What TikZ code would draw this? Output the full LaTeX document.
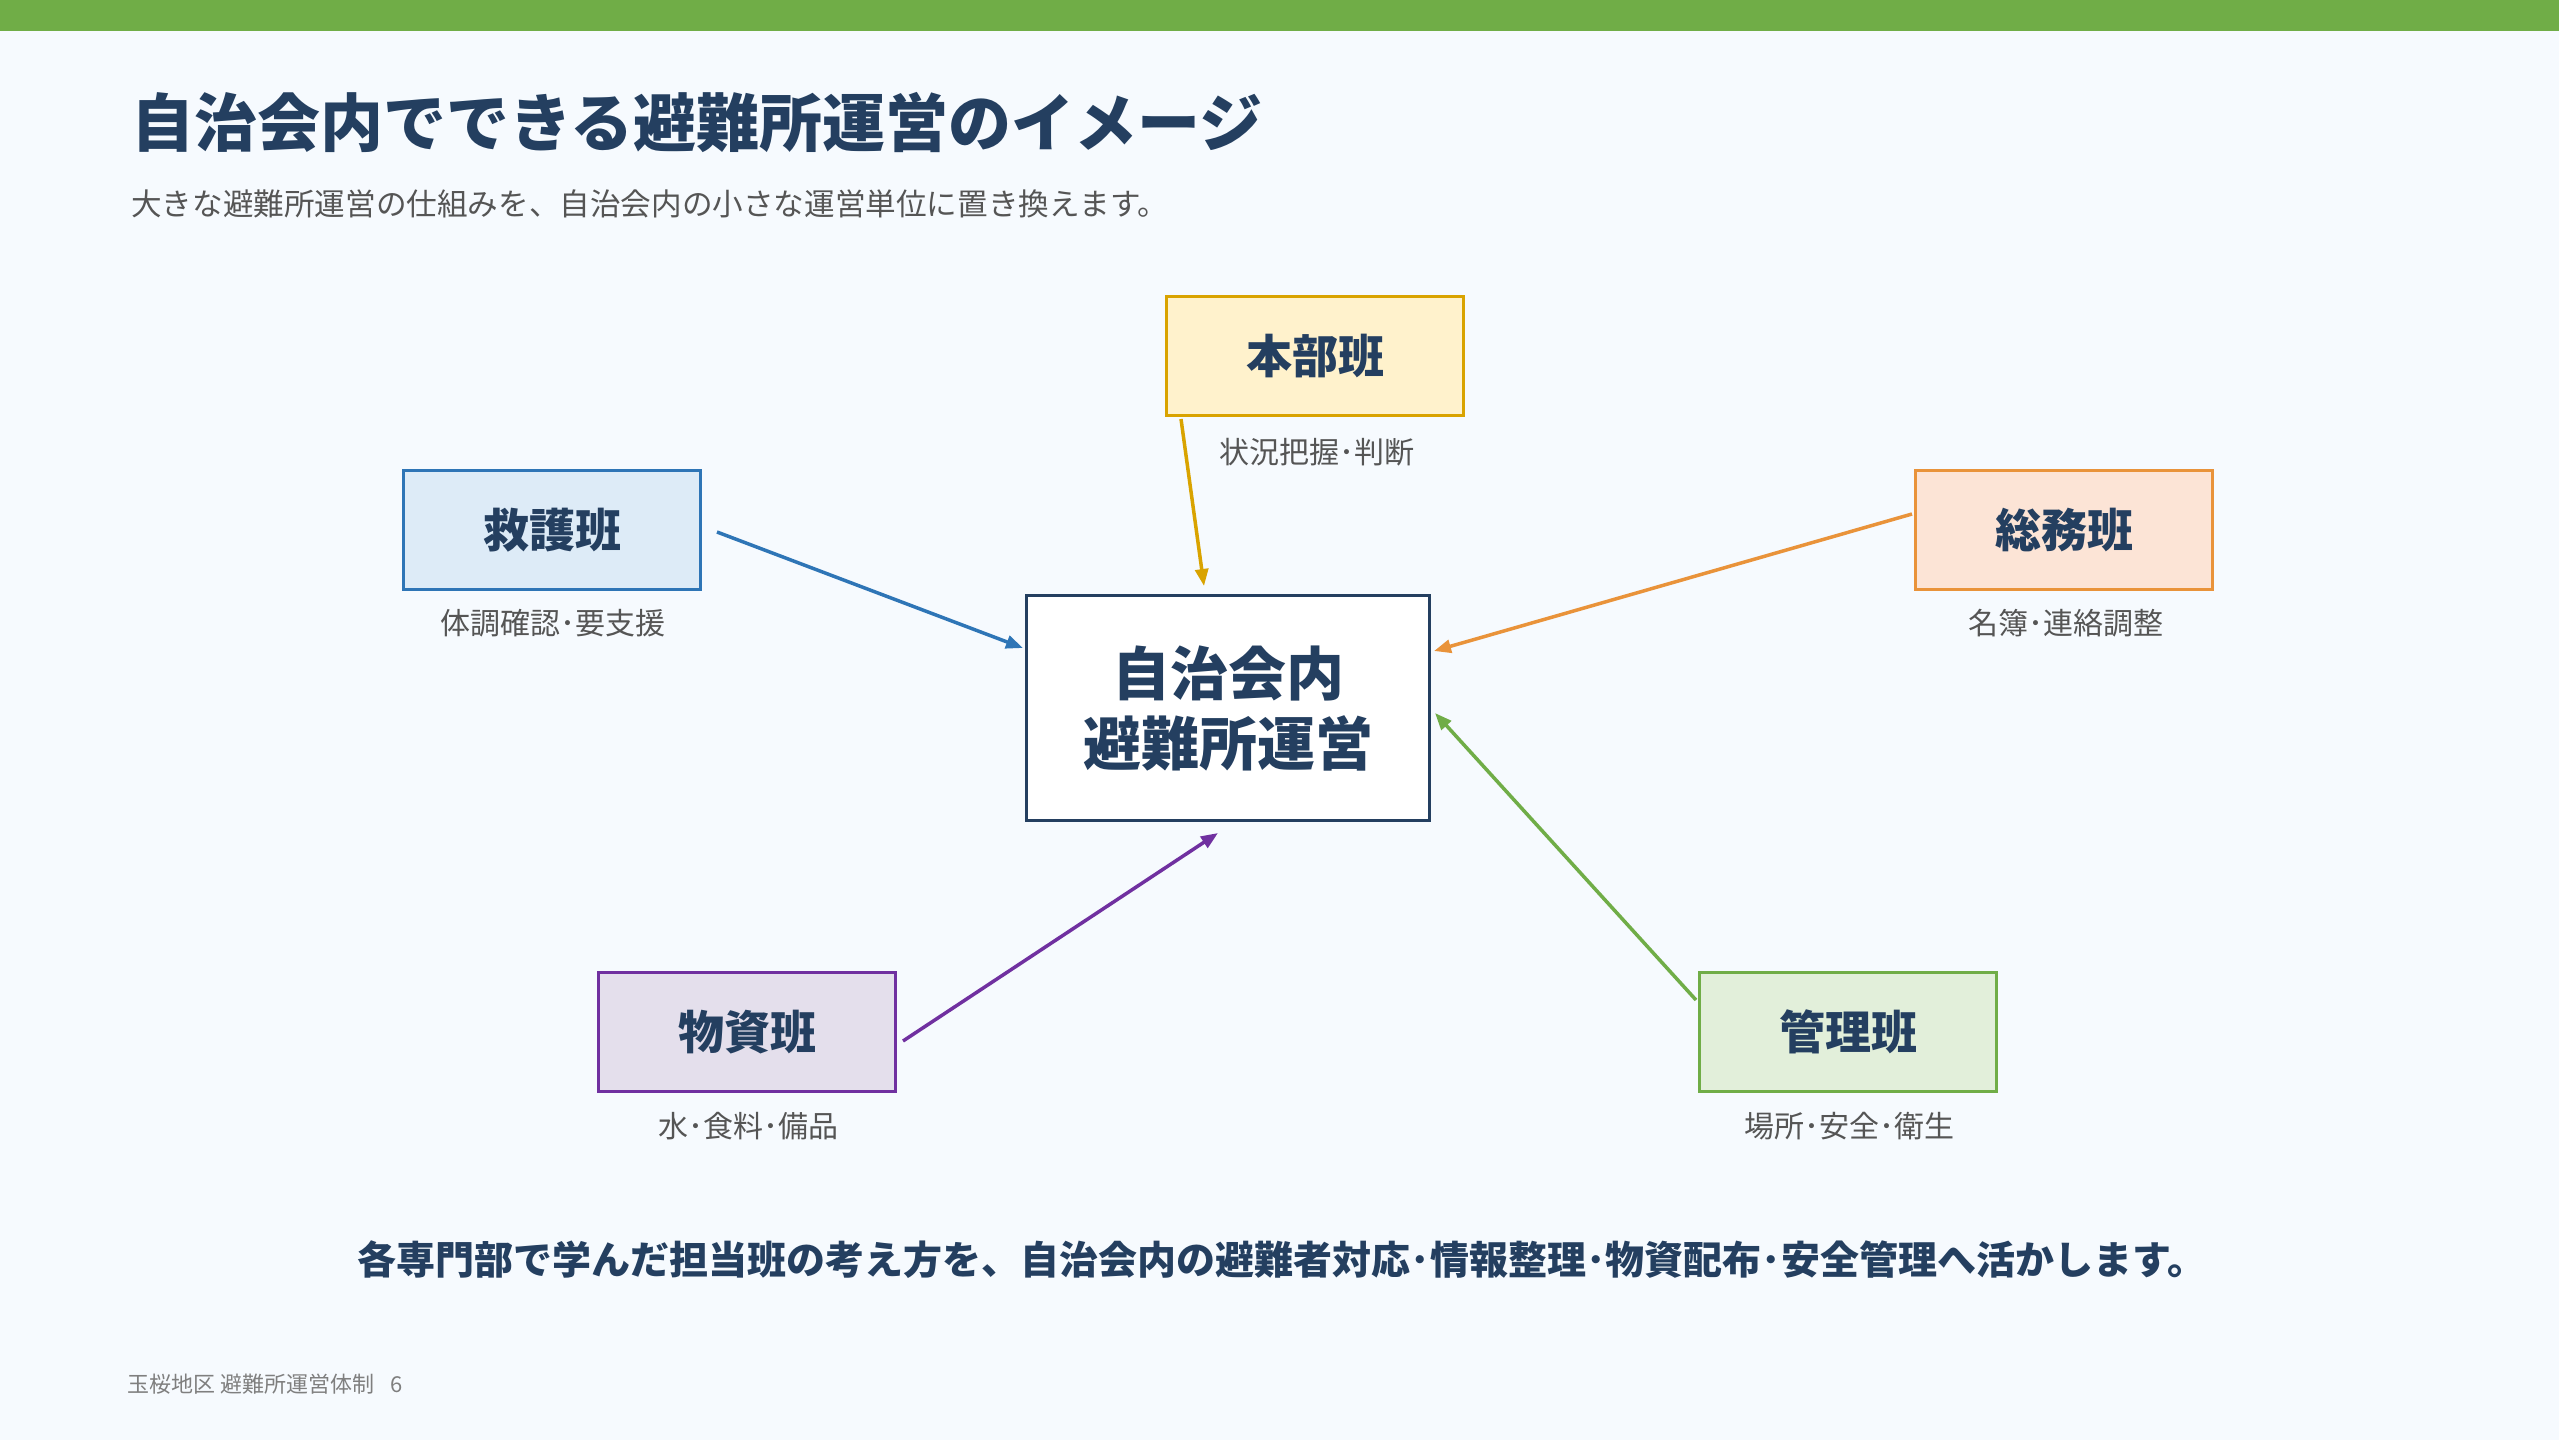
\documentclass[tikz,border=0pt]{standalone}
\usepackage{fontspec}
\newfontfamily\jp{Noto Sans CJK JP}
\usetikzlibrary{arrows.meta,calc}
\definecolor{bg}{HTML}{F6FAFE}
\definecolor{topbar}{HTML}{70AD47}
\definecolor{navy}{HTML}{243F60}
\definecolor{labgray}{HTML}{555555}
\definecolor{footgray}{HTML}{7F7F7F}
\definecolor{yfill}{HTML}{FFF2CC}\definecolor{ydraw}{HTML}{D9A300}
\definecolor{bfill}{HTML}{DDEBF7}\definecolor{bdraw}{HTML}{2E75B6}
\definecolor{ofill}{HTML}{FCE4D6}\definecolor{odraw}{HTML}{E9933A}
\definecolor{pfill}{HTML}{E4DFEC}\definecolor{pdraw}{HTML}{7030A0}
\definecolor{gfill}{HTML}{E2EFDA}\definecolor{gdraw}{HTML}{70AD47}
\tikzset{
  team/.style={draw, line width=3pt, minimum width=297pt, minimum height=119pt,
    inner sep=0pt, font=\jp\bfseries\fontsize{46}{52}\selectfont, text=navy},
  sublab/.style={font=\jp\fontsize{30}{34}\selectfont, text=labgray, inner sep=0pt},
  conn/.style={line width=3.5pt, -{Triangle[length=17pt,width=13pt]}},
}
\begin{document}
\begin{tikzpicture}[x=1pt,y=-1pt]
\useasboundingbox (0,0) rectangle (2559,1440);
\fill[bg] (0,0) rectangle (2559,1440);
\fill[topbar] (0,0) rectangle (2559,31);
% title
\node[anchor=west, inner sep=0pt, text=navy, font=\jp\bfseries\fontsize{63}{70}\selectfont] (title) at (131,122) {自治会内でできる避難所運営のイメージ};
\node[anchor=west, inner sep=0pt, text=labgray, font=\jp\fontsize{30.6}{36}\selectfont] (subtitle) at (131,204) {大きな避難所運営の仕組みを、自治会内の小さな運営単位に置き換えます。};
% center
\node[draw=navy, fill=white, line width=3pt, minimum width=403pt, minimum height=225pt, inner sep=0pt,
  align=center, text=navy, font=\jp\bfseries\fontsize{58}{70}\selectfont] (c) at (1228,708) {自治会内\\避難所運営};
% teams
\node[team, fill=yfill, draw=ydraw] (hq) at (1315,356) {本部班};
\node[sublab] (hql) at (1317,452) {状況把握･判断};
\node[team, fill=bfill, draw=bdraw] (ky) at (552,530) {救護班};
\node[sublab] (kyl) at (553,623) {体調確認･要支援};
\node[team, fill=ofill, draw=odraw] (so) at (2064,530) {総務班};
\node[sublab] (sol) at (2066,623) {名簿･連絡調整};
\node[team, fill=pfill, draw=pdraw] (bu) at (747,1032) {物資班};
\node[sublab] (bul) at (748,1126) {水･食料･備品};
\node[team, fill=gfill, draw=gdraw] (ka) at (1848,1032) {管理班};
\node[sublab] (kal) at (1849,1126) {場所･安全･衛生};
% connectors
\coordinate (hqs) at ($(hq.south west)+(16,2)$);
\coordinate (hqe) at ($(c.north)+(-24,-8)$);
\draw[conn, ydraw] (hqs) -- (hqe);
\coordinate (kys) at ($(ky.east)+(15,2)$);
\coordinate (kye) at ($(c.west)+(-2,-60)$);
\draw[conn, bdraw] (kys) -- (kye);
\coordinate (sos) at ($(so.west)+(-2,-16)$);
\coordinate (soe) at ($(c.east)+(3,-57)$);
\draw[conn, odraw] (sos) -- (soe);
\coordinate (bus) at ($(bu.east)+(6,9)$);
\coordinate (bue) at ($(c.south)+(-10,11)$);
\draw[conn, pdraw] (bus) -- (bue);
\coordinate (kas) at ($(ka.west)+(-2,-32)$);
\coordinate (kae) at ($(c.east)+(4,5)$);
\draw[conn, gdraw] (kas) -- (kae);
% bottom message
\node[inner sep=0pt, text=navy, font=\jp\bfseries\fontsize{39}{44}\selectfont] (msg) at (1282,1260) {各専門部で学んだ担当班の考え方を、自治会内の避難者対応･情報整理･物資配布･安全管理へ活かします。};
\node[anchor=west, inner sep=0pt, text=footgray, font=\jp\fontsize{22}{26}\selectfont] (foot) at (127,1384) {玉桜地区 避難所運営体制\hspace{16pt}6};
\end{tikzpicture}
\end{document}
